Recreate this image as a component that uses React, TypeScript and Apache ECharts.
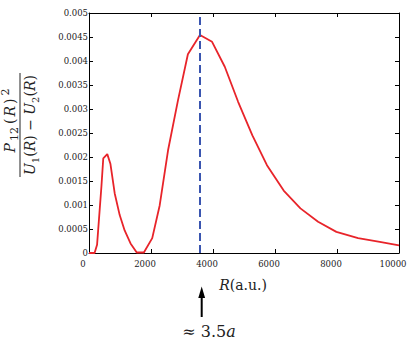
import React, { useEffect, useRef } from "react";
import * as echarts from "echarts";

const xValues = [0, 180, 260, 400, 460, 590, 690, 830, 990, 1150, 1340, 1540, 1770, 2040, 2280, 2550, 2870, 3190, 3580, 3970, 4380, 4810, 5270, 5740, 6280, 6820, 7390, 7980, 8680, 9380, 10000];
const yValues = [0, 0, 0.00017, 0.00138, 0.00197, 0.00206, 0.00186, 0.00124, 0.00079, 0.00047, 0.0002, 0.00001, 0.00001, 0.00031, 0.00099, 0.00214, 0.00318, 0.00414, 0.00454, 0.0044, 0.00388, 0.00315, 0.00245, 0.00183, 0.0013, 0.00093, 0.00065, 0.00044, 0.00031, 0.00023, 0.00016];
const markerX = 3580;
const yTickLabels = ["0", "0.0005", "0.001", "0.0015", "0.002", "0.0025", "0.003", "0.0035", "0.004", "0.0045", "0.005"];
const xTickLabels = ["0", "2000", "4000", "6000", "8000", "10000"];

const SERIF = "DejaVu Serif";

export default function App() {
  const ref = useRef<HTMLDivElement>(null);
  useEffect(() => {
    if (!ref.current) return;
    const chart = echarts.init(ref.current, null, { renderer: "svg" });
    const tickStyle = { show: true, inside: true, length: 4, lineStyle: { color: "#000", width: 1 } };
    const lineStyle = { show: true, lineStyle: { color: "#000", width: 1 } };
    chart.setOption({
      animation: false,
      textStyle: { fontFamily: SERIF },
      grid: { left: 89, top: 13, width: 310, height: 240 },
      xAxis: [
        {
          type: "value", min: 0, max: 10000, interval: 2000, position: "bottom",
          axisLine: { ...lineStyle, onZero: false }, axisTick: tickStyle, splitLine: { show: false },
          axisLabel: {
            margin: 6, fontFamily: SERIF, fontSize: 8.5, color: "#222", padding: [0, 12, 0, 0],
            formatter: (v: number) => xTickLabels[Math.round(v / 2000)] ?? "",
          },
        },
        {
          type: "value", min: 0, max: 10000, interval: 2000, position: "top",
          axisLine: { ...lineStyle, onZero: false }, axisTick: tickStyle, splitLine: { show: false },
          axisLabel: { show: false },
        },
      ],
      yAxis: [
        {
          type: "value", min: 0, max: 0.005, interval: 0.0005, position: "left",
          axisLine: { ...lineStyle, onZero: false }, axisTick: tickStyle, splitLine: { show: false },
          axisLabel: {
            margin: 1, fontFamily: SERIF, fontSize: 8.5, color: "#222", padding: [0, 0, 12, 0],
            formatter: (v: number) => yTickLabels[Math.round(v / 0.0005)] ?? "",
          },
        },
        {
          type: "value", min: 0, max: 0.005, interval: 0.0005, position: "right",
          axisLine: { ...lineStyle, onZero: false }, axisTick: tickStyle, splitLine: { show: false },
          axisLabel: { show: false },
        },
      ],
      series: [
        {
          type: "line",
          data: xValues.map((x, i) => [x, yValues[i]]),
          showSymbol: false,
          lineStyle: { color: "#e8242a", width: 1.8 },
          markLine: {
            silent: true,
            symbol: ["none", "none"],
            label: { show: false },
            lineStyle: { color: "#3a55b0", width: 2, type: [8, 4] },
            data: [{ xAxis: markerX }],
          },
        },
      ],
      graphic: [
        {
          type: "group",
          x: 20, y: 125, rotation: Math.PI / 2,
          children: [
            {
              type: "text", x: 4, y: -10,
              style: {
                text: "{i|P}{sub|12}{n|(}{i|R}{n|)}{sup|2}",
                align: "center", verticalAlign: "middle",
                rich: {
                  i: { fontFamily: SERIF, fontSize: 14, fontStyle: "italic", fill: "#222", lineHeight: 20, padding: [0, 1, 0, 1] },
                  n: { fontFamily: SERIF, fontSize: 14, fill: "#222", lineHeight: 20, padding: [0, 1, 0, 1] },
                  sub: { fontFamily: SERIF, fontSize: 11, fill: "#222", lineHeight: 11, verticalAlign: "bottom", padding: [0, 2, 0, 1] },
                  sup: { fontFamily: SERIF, fontSize: 11, fill: "#222", lineHeight: 11, verticalAlign: "top", padding: [0, 0, 0, 2] },
                },
              },
            },
            { type: "line", shape: { x1: -52, y1: 0, x2: 52, y2: 0 }, style: { stroke: "#222", lineWidth: 1 } },
            {
              type: "text", x: 0, y: 10,
              style: {
                text: "{i|U}{sub|1}{n|(}{i|R}{n|) − }{i|U}{sub|2}{n|(}{i|R}{n|)}",
                align: "center", verticalAlign: "middle",
                rich: {
                  i: { fontFamily: SERIF, fontSize: 14, fontStyle: "italic", fill: "#222", lineHeight: 20 },
                  n: { fontFamily: SERIF, fontSize: 14, fill: "#222", lineHeight: 20 },
                  sub: { fontFamily: SERIF, fontSize: 10, fill: "#222", lineHeight: 10, verticalAlign: "bottom" },
                },
              },
            },
          ],
        },
        {
          type: "text", x: 243, y: 285,
          style: {
            text: "{i|R}{n|(a.u.)}", align: "center", verticalAlign: "middle",
            rich: {
              i: { fontFamily: SERIF, fontSize: 14, fontStyle: "italic", fill: "#222" },
              n: { fontFamily: SERIF, fontSize: 14, fill: "#222" },
            },
          },
        },
        { type: "line", shape: { x1: 201.7, y1: 317, x2: 201.7, y2: 294 }, style: { stroke: "#000", lineWidth: 2 } },
        { type: "polygon", shape: { points: [[201.7, 286.5], [198.3, 298], [205.1, 298]] }, style: { fill: "#000" } },
        {
          type: "text", x: 209, y: 331,
          style: {
            text: "{n|≈ 3.5}{i|a}", align: "center", verticalAlign: "middle",
            rich: {
              i: { fontFamily: SERIF, fontSize: 16, fontStyle: "italic", fill: "#222" },
              n: { fontFamily: SERIF, fontSize: 16, fill: "#222" },
            },
          },
        },
      ],
    });
    return () => chart.dispose();
  }, []);
  return <div ref={ref} style={{ width: 415, height: 340, position: "absolute", left: 0, top: 0 }} />;
}
